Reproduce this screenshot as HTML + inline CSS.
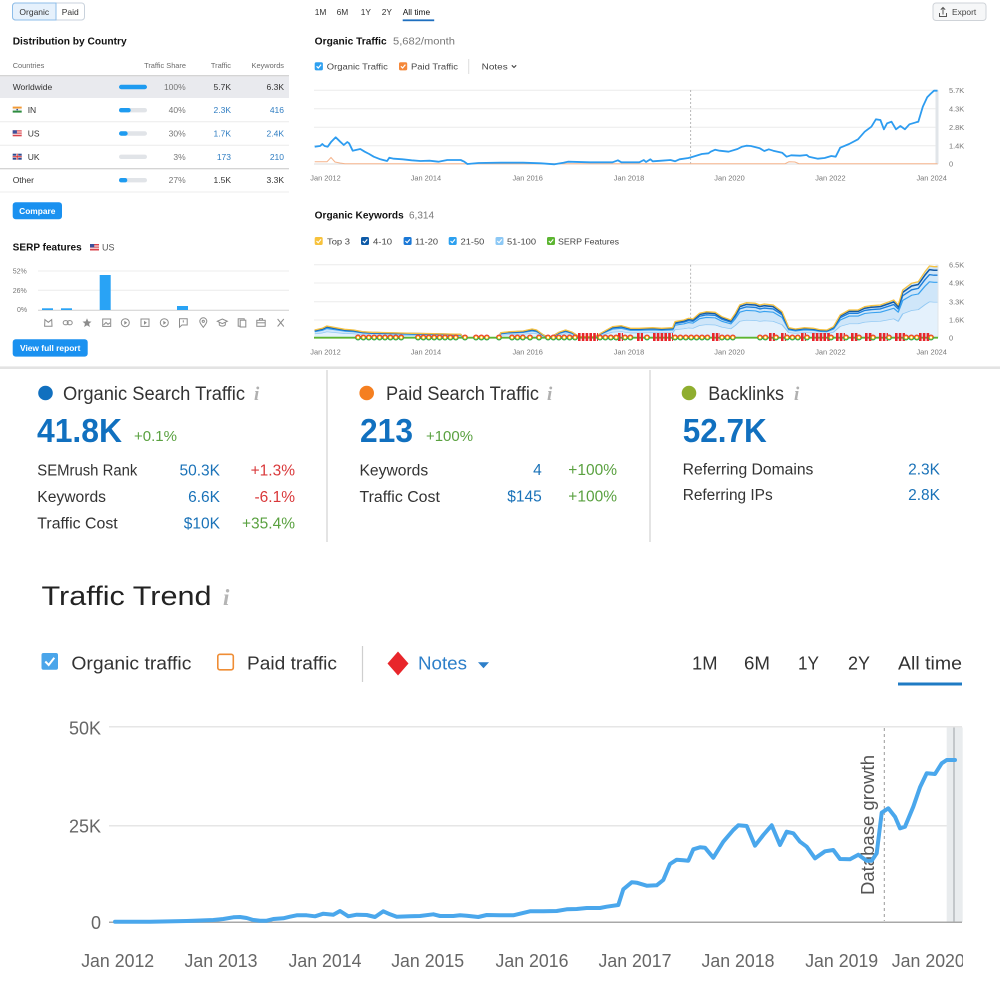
<!DOCTYPE html>
<html><head><meta charset="utf-8"><style>
html,body{margin:0;padding:0;background:#fff;width:1000px;height:1000px;overflow:hidden}
svg{display:block}
</style></head><body>
<svg width="1000" height="1000" viewBox="0 0 1000 1000" xmlns="http://www.w3.org/2000/svg" font-family="Liberation Sans, Arial, sans-serif">
<defs>
<path id="kwl" d="M314.7,330 L322.3,328.3 326.8,326 335.7,327.7 344.6,329.3 353.6,330 362.5,331.7 371.4,332.3 389.3,332.7 411.6,333.3 433.9,333.7 460.7,334.3 462.9,337.7 498.7,337.7 500.9,332.7 509.8,331.7 523.2,331 532.1,329 536.6,330 543.3,335 550,337.7 558.9,332.3 565.6,330 572.3,332.3 579,336.7 594.6,336.7 603.6,331.7 612.5,326.7 621.4,325.7 630.4,328.3 639.3,328.3 652.7,327.7 661.6,328.3 672.8,327.7 675,321.7 683.9,320 688.4,318.3 692.9,319 699.6,313.3 706.3,311.7 715.2,312.3 721.9,316.7 730.8,320 735.3,313.3 739.7,305 746.4,302.7 755.4,303.3 759.8,305 764.3,304 773.2,305 782.1,311.7 788.8,327.7 795.5,329 804.5,327.7 813.4,328.3 820.1,329.7 826.8,330 833.5,326.7 840.2,315 849.1,310 858,310 864.7,306.7 871.4,305.7 880.4,305 889.3,301.7 893.8,300 898.2,305 902.7,290 911.6,283.3 918.3,281.7 925,271.7 929.5,266 934,266.7 937.5,266.7"/>
<path id="kwa" d="M314.7,337.7 L314.7,330 L322.3,328.3 326.8,326 335.7,327.7 344.6,329.3 353.6,330 362.5,331.7 371.4,332.3 389.3,332.7 411.6,333.3 433.9,333.7 460.7,334.3 462.9,337.7 498.7,337.7 500.9,332.7 509.8,331.7 523.2,331 532.1,329 536.6,330 543.3,335 550,337.7 558.9,332.3 565.6,330 572.3,332.3 579,336.7 594.6,336.7 603.6,331.7 612.5,326.7 621.4,325.7 630.4,328.3 639.3,328.3 652.7,327.7 661.6,328.3 672.8,327.7 675,321.7 683.9,320 688.4,318.3 692.9,319 699.6,313.3 706.3,311.7 715.2,312.3 721.9,316.7 730.8,320 735.3,313.3 739.7,305 746.4,302.7 755.4,303.3 759.8,305 764.3,304 773.2,305 782.1,311.7 788.8,327.7 795.5,329 804.5,327.7 813.4,328.3 820.1,329.7 826.8,330 833.5,326.7 840.2,315 849.1,310 858,310 864.7,306.7 871.4,305.7 880.4,305 889.3,301.7 893.8,300 898.2,305 902.7,290 911.6,283.3 918.3,281.7 925,271.7 929.5,266 934,266.7 937.5,266.7 L937.5,337.7 Z"/>
<path id="gseg" d="M358,337.5 H405 M418,337.5 H458 M465,337.5 H469 M476,337.5 H487 M499,337.5 H503 M512,337.5 H524 M530,337.5 H534 M539,337.5 H543 M548,337.5 H577 M600,337.5 H617 M625,337.5 H635 M647,337.5 H652 M675,337.5 H710 M722,337.5 H736 M760,337.5 H768 M776,337.5 H780 M787,337.5 H800 M807,337.5 H811 M831,337.5 H835 M846,337.5 H850 M859,337.5 H864 M873,337.5 H878 M889,337.5 H894 M906,337.5 H918 M931,337.5 H935"/>
<clipPath id="bclip"><rect x="0" y="700" width="963" height="300"/></clipPath>
<clipPath id="gtop"><rect x="300" y="330" width="700" height="7.5"/></clipPath>
<clipPath id="gbot"><rect x="300" y="337.5" width="700" height="8"/></clipPath>
</defs>

<!-- ============ TOP LEFT PANEL ============ -->
<rect x="12.5" y="3" width="72" height="17" rx="3" fill="#fff" stroke="#c9d2dc" stroke-width="1"/>
<path d="M15.5,3 H56 V20 H15.5 A3,3 0 0 1 12.5,17 V6 A3,3 0 0 1 15.5,3 Z" fill="#e6f1fc" stroke="#8dbde9" stroke-width="1"/>
<text x="34.3" y="14.8" font-size="8.5" fill="#333" text-anchor="middle">Organic</text>
<text x="70.2" y="14.8" font-size="8.5" fill="#333" text-anchor="middle">Paid</text>

<text x="12.7" y="44.3" font-size="10.3" font-weight="bold" fill="#111" textLength="114" lengthAdjust="spacingAndGlyphs">Distribution by Country</text>

<g font-size="7.4" fill="#6b6b6b">
<text x="12.7" y="67.8">Countries</text>
<text x="186" y="67.8" text-anchor="end">Traffic Share</text>
<text x="231" y="67.8" text-anchor="end">Traffic</text>
<text x="284" y="67.8" text-anchor="end">Keywords</text>
</g>
<rect x="0" y="76.3" width="289" height="21.7" fill="#e9eaee"/>
<line x1="0" y1="75.8" x2="289" y2="75.8" stroke="#c6c6c6" stroke-width="1"/>
<line x1="0" y1="121.8" x2="289" y2="121.8" stroke="#ececec" stroke-width="1"/>
<line x1="0" y1="145.2" x2="289" y2="145.2" stroke="#ececec" stroke-width="1"/>
<line x1="0" y1="168.7" x2="289" y2="168.7" stroke="#c6c6c6" stroke-width="1"/>
<line x1="0" y1="192" x2="289" y2="192" stroke="#ececec" stroke-width="1"/>

<g>
<rect x="119" y="84.8" width="28" height="4.4" rx="2.2" fill="#1e9bf0"/>
<rect x="119" y="108" width="28" height="4.4" rx="2.2" fill="#e1e4e8"/><rect x="119" y="108" width="11.7" height="4.4" rx="2.2" fill="#1e9bf0"/>
<rect x="119" y="131.3" width="28" height="4.4" rx="2.2" fill="#e1e4e8"/><rect x="119" y="131.3" width="8.7" height="4.4" rx="2.2" fill="#1e9bf0"/>
<rect x="119" y="154.6" width="28" height="4.4" rx="2.2" fill="#e1e4e8"/>
<rect x="119" y="178" width="28" height="4.4" rx="2.2" fill="#e1e4e8"/><rect x="119" y="178" width="8.3" height="4.4" rx="2.2" fill="#1e9bf0"/>
</g>
<rect x="12.7" y="106.6" width="9" height="2" fill="#f29a35"/><rect x="12.7" y="108.6" width="9" height="2" fill="#f3f3f3"/><rect x="12.7" y="110.6" width="9" height="2" fill="#2d8c3e"/><circle cx="17.2" cy="109.6" r="0.8" fill="#2a4a9a"/>
<rect x="12.7" y="130.3" width="9" height="6" fill="#d9434b"/><rect x="12.7" y="131.5" width="9" height="1" fill="#fff"/><rect x="12.7" y="133.7" width="9" height="1" fill="#fff"/><rect x="12.7" y="130.3" width="4.2" height="3.3" fill="#3b4f9b"/>
<rect x="12.7" y="153.7" width="9" height="6" fill="#2f4a8e"/><rect x="16.2" y="153.7" width="2" height="6" fill="#fff"/><rect x="12.7" y="155.7" width="9" height="2" fill="#fff"/><rect x="16.7" y="153.7" width="1" height="6" fill="#d33"/><rect x="12.7" y="156.2" width="9" height="1" fill="#d33"/>

<g font-size="8.5" fill="#333">
<text x="12.7" y="90">Worldwide</text>
<text x="27.7" y="113.2">IN</text>
<text x="27.7" y="136.5">US</text>
<text x="27.7" y="159.9">UK</text>
<text x="12.7" y="183.2">Other</text>
</g>
<g font-size="8.5" text-anchor="end">
<text x="185.7" y="90" fill="#777">100%</text><text x="231" y="90" fill="#333">5.7K</text><text x="284" y="90" fill="#333">6.3K</text>
<text x="185.7" y="113.2" fill="#777">40%</text><text x="231" y="113.2" fill="#2f7dc2">2.3K</text><text x="284" y="113.2" fill="#2f7dc2">416</text>
<text x="185.7" y="136.5" fill="#777">30%</text><text x="231" y="136.5" fill="#2f7dc2">1.7K</text><text x="284" y="136.5" fill="#2f7dc2">2.4K</text>
<text x="185.7" y="159.9" fill="#777">3%</text><text x="231" y="159.9" fill="#2f7dc2">173</text><text x="284" y="159.9" fill="#2f7dc2">210</text>
<text x="185.7" y="183.2" fill="#777">27%</text><text x="231" y="183.2" fill="#333">1.5K</text><text x="284" y="183.2" fill="#333">3.3K</text>
</g>

<rect x="12.7" y="202.3" width="49.3" height="17" rx="3" fill="#1a91f0"/>
<text x="37.3" y="213.9" font-size="8.4" font-weight="bold" fill="#fff" text-anchor="middle">Compare</text>

<text x="12.7" y="250.6" font-size="10" font-weight="bold" fill="#111" textLength="69" lengthAdjust="spacingAndGlyphs">SERP features</text>
<rect x="90" y="244" width="9" height="6.5" fill="#d9434b"/><rect x="90" y="245.5" width="9" height="1" fill="#fff"/><rect x="90" y="247.7" width="9" height="1" fill="#fff"/><rect x="90" y="244" width="4.2" height="3.4" fill="#3b4f9b"/>
<text x="102" y="250.6" font-size="9" fill="#555">US</text>

<g font-size="7" fill="#777">
<text x="12.7" y="273.5">52%</text>
<text x="12.7" y="292.8">26%</text>
<text x="17" y="311.8">0%</text>
</g>
<line x1="38" y1="271" x2="289" y2="271" stroke="#ececec"/>
<line x1="38" y1="290.3" x2="289" y2="290.3" stroke="#ececec"/>
<line x1="38" y1="310.2" x2="289" y2="310.2" stroke="#cfcfcf"/>
<g fill="#29a3f5">
<rect x="42" y="308.3" width="11" height="1.7"/>
<rect x="61" y="308.3" width="11" height="1.7"/>
<rect x="99.7" y="275" width="11" height="35"/>
<rect x="177" y="306" width="11" height="4"/>
</g>
<g stroke="#8c8c8c" stroke-width="1" fill="none">
<path d="M44.6,326.3 L44.9,319.6 L48.3,322.3 L51.7,319.6 L52,326.3 Z"/>
<rect x="63.2" y="320.6" width="5" height="4.2" rx="2.1"/><rect x="67.2" y="320.6" width="5" height="4.2" rx="2.1"/>
<polygon points="87,318.2 88.3,321.4 91.5,321.6 89,323.7 89.9,327 87,325.2 84.1,327 85,323.7 82.5,321.6 85.7,321.4" fill="#8c8c8c" stroke="none"/>
<rect x="102.7" y="319" width="8" height="7.4"/><polyline points="103.5,325 106,322.5 108,324.3 110,322.8"/>
<circle cx="125.3" cy="322.7" r="4"/><polygon points="124.3,320.7 127.2,322.7 124.3,324.7" fill="#8c8c8c" stroke="none"/>
<rect x="141" y="319" width="8" height="7.4"/><polygon points="144,320.7 146.9,322.7 144,324.7" fill="#8c8c8c" stroke="none"/>
<circle cx="164.3" cy="322.7" r="4"/><polygon points="163.3,320.7 166.2,322.7 163.3,324.7" fill="#8c8c8c" stroke="none"/>
<path d="M179.5,318.8 H187.2 V325 H182 L179.5,327.2 Z"/><line x1="183.3" y1="320.3" x2="183.3" y2="322.5"/>
<path d="M203.3,327.3 C200.5,324 199.8,322.5 199.8,321.3 A3.5,3.5 0 0 1 206.8,321.3 C206.8,322.5 206.1,324 203.3,327.3 Z"/><circle cx="203.3" cy="321.3" r="1.1"/>
<polygon points="222.3,319 227.3,321.3 222.3,323.6 217.3,321.3"/><path d="M219.3,322.5 V325 C221,326.5 223.6,326.5 225.3,325 V322.5"/>
<rect x="238.2" y="318.8" width="6" height="7.4"/><rect x="240.2" y="320.2" width="5.6" height="6.8" fill="#fff"/>
<rect x="256.8" y="320.3" width="8.4" height="6"/><path d="M259.5,320.3 V318.8 H262.5 V320.3"/><line x1="256.8" y1="322.8" x2="265.2" y2="322.8"/>
<line x1="277.6" y1="319" x2="283.8" y2="326.5"/><line x1="283.8" y1="319" x2="277.6" y2="326.5"/>
</g>

<rect x="12.7" y="339.3" width="75" height="17.3" rx="3" fill="#1a91f0"/>
<text x="50.2" y="351" font-size="8.4" font-weight="bold" fill="#fff" text-anchor="middle">View full report</text>

<rect x="0" y="366.4" width="1000" height="2.6" fill="#e3e3e3"/>

<!-- ============ TOP RIGHT: ORGANIC TRAFFIC ============ -->
<g font-size="8.4" fill="#333">
<text x="314.7" y="15">1M</text>
<text x="336.6" y="15">6M</text>
<text x="360.7" y="15">1Y</text>
<text x="381.7" y="15">2Y</text>
<text x="402.7" y="15" fill="#111">All time</text>
</g>
<rect x="402.7" y="19.4" width="31.5" height="1.8" fill="#1e6fbf"/>
<rect x="933" y="3" width="53" height="17.5" rx="3" fill="#f6f7f8" stroke="#cfd3d8"/>
<g stroke="#555" stroke-width="1" fill="none"><path d="M939.5,13 V16.5 H946.5 V13"/><path d="M943,14.5 V7.5 M940.8,9.7 L943,7.5 L945.2,9.7"/></g>
<text x="952" y="15" font-size="8.4" fill="#444">Export</text>

<text x="314.7" y="44.3" font-size="10" font-weight="bold" fill="#111" textLength="72" lengthAdjust="spacingAndGlyphs">Organic Traffic</text>
<text x="393" y="44.3" font-size="10" fill="#777" textLength="62" lengthAdjust="spacingAndGlyphs">5,682/month</text>

<rect x="314.7" y="62.2" width="8.2" height="8.2" rx="1.6" fill="#2ea0f0"/><polyline points="316.6,66.3 318.3,68 321.1,64.6" stroke="#fff" stroke-width="1.2" fill="none"/>
<text x="326.8" y="69.5" font-size="8.4" fill="#444" textLength="61" lengthAdjust="spacingAndGlyphs">Organic Traffic</text>
<rect x="399" y="62.2" width="8.2" height="8.2" rx="1.6" fill="#f5883a"/><polyline points="400.9,66.3 402.6,68 405.4,64.6" stroke="#fff" stroke-width="1.2" fill="none"/>
<text x="411" y="69.5" font-size="8.4" fill="#444" textLength="47" lengthAdjust="spacingAndGlyphs">Paid Traffic</text>
<line x1="468.7" y1="59" x2="468.7" y2="74" stroke="#ddd"/>
<text x="481.7" y="69.5" font-size="8.4" fill="#444" textLength="26" lengthAdjust="spacingAndGlyphs">Notes</text>
<polyline points="511.8,65.3 514,67.5 516.2,65.3" stroke="#444" stroke-width="1.1" fill="none"/>

<g stroke="#ececec" stroke-width="1">
<line x1="314" y1="90.3" x2="938" y2="90.3"/>
<line x1="314" y1="108.7" x2="938" y2="108.7"/>
<line x1="314" y1="127.3" x2="938" y2="127.3"/>
<line x1="314" y1="145.7" x2="938" y2="145.7"/>
</g>
<line x1="314" y1="164" x2="938" y2="164" stroke="#dcdcdc"/>
<rect x="935.5" y="90" width="3" height="74" fill="#e1e5e9"/>
<line x1="690.6" y1="90" x2="690.6" y2="164" stroke="#b8b8b8" stroke-dasharray="2 2"/>
<g font-size="7.4" fill="#777">
<text x="949" y="93">5.7K</text>
<text x="949" y="111.4">4.3K</text>
<text x="949" y="130">2.8K</text>
<text x="949" y="148.4">1.4K</text>
<text x="949" y="166.7">0</text>
</g>
<g font-size="7.4" fill="#777" text-anchor="middle">
<text x="325.5" y="180.5">Jan 2012</text>
<text x="425.9" y="180.5">Jan 2014</text>
<text x="527.7" y="180.5">Jan 2016</text>
<text x="629" y="180.5">Jan 2018</text>
<text x="729.5" y="180.5">Jan 2020</text>
<text x="830.4" y="180.5">Jan 2022</text>
<text x="931.7" y="180.5">Jan 2024</text>
</g>
<path d="M314.7,161.7 L327,161.7 331,157.5 335,162 340,163 345,163.7 785,163.7 789,161.8 795,162 799,163.7 937.5,163.7" fill="none" stroke="#f5b48c" stroke-width="1"/>
<path d="M314.7,146.7 L320.1,146 322.3,144 324.6,146 327.7,146.7 331.3,141.7 335.7,137.3 340.2,141.7 343.8,145 347.3,142 349.1,143.3 352.7,150.7 355.8,150 360.3,149 364.7,151.7 369.2,154 373.7,156.7 380.4,159.3 387.1,161 389.3,157.7 393.8,158.7 402.7,159.3 411.6,160.3 420.5,161 429.5,160.7 438.4,161.7 447.3,160 460.7,160 464.3,161.7 467.4,164 478.6,163 500.9,162.7 523.2,162.7 541.1,163.3 554.5,164.3 563.4,162.7 567.9,161.7 590.2,162.3 612.5,162.3 617.9,160.3 621.4,162.3 639.3,162.3 643.8,160 646,162 650.4,159.3 652.7,161.3 661.6,160.7 670.5,160 675,161.3 679.5,159.3 688.4,158 692.9,156.7 701.8,154 708.5,153.3 710.7,151.7 715.2,149.7 719.6,150.7 728.6,151.7 737.5,149 742,146.7 746.4,145.7 750.9,146 759.8,148.3 764.3,151 768.8,149.3 773.2,150.7 782.1,152.7 786.6,156.7 791.1,155.3 800,155.7 806.7,155 808.9,156.7 817.9,158.7 824.6,158 831.3,156 835.7,156.7 840.2,147.7 849.1,144 858,139.3 864.7,131.7 871.4,126.7 875.9,119.3 880.4,120 883.9,129.3 887.1,123.3 891.5,121.7 896,129.3 900.4,126 904.9,129.3 909.4,124.3 916.1,122.3 918.3,121.7 922.8,106.7 927.2,97.3 930.4,94 934,90.7 937.5,90.7" fill="none" stroke="#2d9cf0" stroke-width="1.8" stroke-linejoin="round"/>

<!-- ============ TOP RIGHT: ORGANIC KEYWORDS ============ -->
<text x="314.7" y="218.4" font-size="10" font-weight="bold" fill="#111" textLength="89" lengthAdjust="spacingAndGlyphs">Organic Keywords</text>
<text x="409" y="218.4" font-size="10" fill="#777" textLength="25" lengthAdjust="spacingAndGlyphs">6,314</text>
<g>
<rect x="314.7" y="237" width="8" height="8" rx="1.6" fill="#f7c23b"/>
<rect x="361" y="237" width="8" height="8" rx="1.6" fill="#0d5aa7"/>
<rect x="403.6" y="237" width="8" height="8" rx="1.6" fill="#1b78d6"/>
<rect x="448.7" y="237" width="8" height="8" rx="1.6" fill="#2ca0ef"/>
<rect x="495.5" y="237" width="8" height="8" rx="1.6" fill="#8cc8f5"/>
<rect x="547" y="237" width="8" height="8" rx="1.6" fill="#5cb531"/>
<g stroke="#fff" stroke-width="1.1" fill="none">
<polyline points="316.5,241 318.2,242.7 321,239.4"/>
<polyline points="362.8,241 364.5,242.7 367.3,239.4"/>
<polyline points="405.4,241 407.1,242.7 409.9,239.4"/>
<polyline points="450.5,241 452.2,242.7 455,239.4"/>
<polyline points="497.3,241 499,242.7 501.8,239.4"/>
<polyline points="548.8,241 550.5,242.7 553.3,239.4"/>
</g>
</g>
<g font-size="8.4" fill="#444">
<text x="327" y="244.3" textLength="23" lengthAdjust="spacingAndGlyphs">Top 3</text>
<text x="373" y="244.3" textLength="19" lengthAdjust="spacingAndGlyphs">4-10</text>
<text x="415" y="244.3" textLength="23" lengthAdjust="spacingAndGlyphs">11-20</text>
<text x="460.7" y="244.3" textLength="23.5" lengthAdjust="spacingAndGlyphs">21-50</text>
<text x="507" y="244.3" textLength="29" lengthAdjust="spacingAndGlyphs">51-100</text>
<text x="558" y="244.3" textLength="61" lengthAdjust="spacingAndGlyphs">SERP Features</text>
</g>
<g stroke="#ececec" stroke-width="1">
<line x1="314" y1="264.7" x2="938" y2="264.7"/>
<line x1="314" y1="283" x2="938" y2="283"/>
<line x1="314" y1="301.7" x2="938" y2="301.7"/>
<line x1="314" y1="320" x2="938" y2="320"/>
</g>
<rect x="935.5" y="264.7" width="3" height="73" fill="#e1e5e9"/>
<line x1="690.6" y1="264.7" x2="690.6" y2="337.7" stroke="#b8b8b8" stroke-dasharray="2 2"/>
<g font-size="7.4" fill="#777">
<text x="949" y="267.4">6.5K</text>
<text x="949" y="285.7">4.9K</text>
<text x="949" y="304.4">3.3K</text>
<text x="949" y="322.7">1.6K</text>
<text x="949" y="340.4">0</text>
</g>
<use href="#kwa" fill="#cfe6f9"/>
<use href="#kwa" fill="#e4f1fc" transform="translate(0,337.7) scale(1,0.5) translate(0,-337.7)"/>
<g fill="none" stroke-linejoin="round">
<use href="#kwl" stroke="#8ec7f3" stroke-width="1.3" vector-effect="non-scaling-stroke" transform="translate(0,337.7) scale(1,0.5) translate(0,-337.7)"/>
<use href="#kwl" stroke="#38a1ef" stroke-width="1.4" vector-effect="non-scaling-stroke" transform="translate(0,337.7) scale(1,0.78) translate(0,-337.7)"/>
<use href="#kwl" stroke="#1c7fdb" stroke-width="1.5" vector-effect="non-scaling-stroke" transform="translate(0,337.7) scale(1,0.88) translate(0,-337.7)"/>
<use href="#kwl" stroke="#135aa6" stroke-width="1.6" vector-effect="non-scaling-stroke" transform="translate(0,337.7) scale(1,0.95) translate(0,-337.7)"/>
<use href="#kwl" stroke="#f5c242" stroke-width="1.3"/>
</g>
<line x1="314" y1="337.7" x2="938" y2="337.7" stroke="#5cb531" stroke-width="1.8"/>
<g stroke="#e8262b" stroke-width="8" stroke-dasharray="2.6 1.2" fill="none">
<path d="M578,337 H598 M618,337 H623 M637,337 H643 M653,337 H673 M712,337 H720 M769,337 H775 M781,337 H786 M801,337 H806 M812,337 H830 M836,337 H845 M851,337 H858 M865,337 H872 M879,337 H888 M895,337 H905 M919,337 H930"/>
</g>
<g stroke-linecap="round" fill="none" stroke-dasharray="0 5.4" stroke-width="6">
<use href="#gseg" stroke="#e94235" clip-path="url(#gtop)"/>
<use href="#gseg" stroke="#34a853" clip-path="url(#gbot)"/>
<use href="#gseg" stroke="#fbbc05" stroke-width="3.6"/>
<use href="#gseg" stroke="#fff" stroke-width="2.2"/>
</g>
<g font-size="7.4" fill="#777" text-anchor="middle">
<text x="325.5" y="354.5">Jan 2012</text>
<text x="425.9" y="354.5">Jan 2014</text>
<text x="527.7" y="354.5">Jan 2016</text>
<text x="629" y="354.5">Jan 2018</text>
<text x="729.5" y="354.5">Jan 2020</text>
<text x="830.4" y="354.5">Jan 2022</text>
<text x="931.7" y="354.5">Jan 2024</text>
</g>

<!-- ============ STATS ============ -->
<line x1="327" y1="370" x2="327" y2="542" stroke="#dcdcdc" stroke-width="1.5"/>
<line x1="650" y1="370" x2="650" y2="542" stroke="#dcdcdc" stroke-width="1.5"/>

<circle cx="45.5" cy="393" r="7.3" fill="#1170bf"/>
<text x="63" y="399.8" font-size="19" fill="#333" textLength="182" lengthAdjust="spacingAndGlyphs">Organic Search Traffic</text>
<text x="254" y="400" font-size="19" font-style="italic" font-weight="bold" font-family="Liberation Serif, serif" fill="#b0b0b0">i</text>
<text x="37" y="442" font-size="33" font-weight="bold" fill="#1170bf" textLength="85" lengthAdjust="spacingAndGlyphs">41.8K</text>
<text x="134" y="441" font-size="15" fill="#5aa140" textLength="43" lengthAdjust="spacingAndGlyphs">+0.1%</text>
<g font-size="15.5" fill="#333">
<text x="37.3" y="475.5" textLength="100" lengthAdjust="spacingAndGlyphs">SEMrush Rank</text>
<text x="37.3" y="502" textLength="68.7" lengthAdjust="spacingAndGlyphs">Keywords</text>
<text x="37.3" y="528.5" textLength="80.4" lengthAdjust="spacingAndGlyphs">Traffic Cost</text>
</g>
<g font-size="15.5" text-anchor="end">
<text x="220" y="475.5" fill="#1a72b8">50.3K</text>
<text x="295" y="475.5" fill="#d9383a">+1.3%</text>
<text x="220" y="502" fill="#1a72b8">6.6K</text>
<text x="295" y="502" fill="#d9383a">-6.1%</text>
<text x="220" y="528.5" fill="#1a72b8">$10K</text>
<text x="295" y="528.5" fill="#5aa140">+35.4%</text>
</g>

<circle cx="366.7" cy="393" r="7.3" fill="#f57f20"/>
<text x="386" y="399.8" font-size="19" fill="#333" textLength="153" lengthAdjust="spacingAndGlyphs">Paid Search Traffic</text>
<text x="547" y="400" font-size="19" font-style="italic" font-weight="bold" font-family="Liberation Serif, serif" fill="#b0b0b0">i</text>
<text x="360" y="442" font-size="33" font-weight="bold" fill="#1170bf" textLength="53" lengthAdjust="spacingAndGlyphs">213</text>
<text x="426" y="441" font-size="15" fill="#5aa140" textLength="47" lengthAdjust="spacingAndGlyphs">+100%</text>
<g font-size="15.5" fill="#333">
<text x="359.5" y="475.5" textLength="68.7" lengthAdjust="spacingAndGlyphs">Keywords</text>
<text x="359.5" y="502" textLength="80.4" lengthAdjust="spacingAndGlyphs">Traffic Cost</text>
</g>
<g font-size="15.5" text-anchor="end">
<text x="541.7" y="475" fill="#1a72b8">4</text>
<text x="617" y="475" fill="#5aa140">+100%</text>
<text x="541.7" y="501.5" fill="#1a72b8">$145</text>
<text x="617" y="501.5" fill="#5aa140">+100%</text>
</g>

<circle cx="689" cy="393" r="7.3" fill="#8fae2f"/>
<text x="708.3" y="399.8" font-size="19" fill="#333" textLength="75.7" lengthAdjust="spacingAndGlyphs">Backlinks</text>
<text x="794" y="400" font-size="19" font-style="italic" font-weight="bold" font-family="Liberation Serif, serif" fill="#b0b0b0">i</text>
<text x="682.7" y="442" font-size="33" font-weight="bold" fill="#1170bf" textLength="84" lengthAdjust="spacingAndGlyphs">52.7K</text>
<g font-size="15.5" fill="#333">
<text x="682.7" y="474.5" textLength="130.7" lengthAdjust="spacingAndGlyphs">Referring Domains</text>
<text x="682.7" y="500" textLength="90" lengthAdjust="spacingAndGlyphs">Referring IPs</text>
</g>
<g font-size="15.5" text-anchor="end" fill="#1a72b8">
<text x="940" y="474.5">2.3K</text>
<text x="940" y="500">2.8K</text>
</g>

<!-- ============ TRAFFIC TREND ============ -->
<text x="41.5" y="605" font-size="27" fill="#222" textLength="170" lengthAdjust="spacingAndGlyphs">Traffic Trend</text>
<text x="223" y="605" font-size="23" font-style="italic" font-weight="bold" font-family="Liberation Serif, serif" fill="#b5b5b5">i</text>

<rect x="41.5" y="653" width="16.5" height="16.8" rx="2" fill="#4aa5ea"/>
<polyline points="45.3,661.5 48.7,665 54.3,657.8" stroke="#fff" stroke-width="2" fill="none"/>
<text x="71.4" y="669.5" font-size="18" fill="#333" textLength="120" lengthAdjust="spacingAndGlyphs">Organic traffic</text>
<rect x="217.8" y="654.3" width="15.5" height="15.5" rx="2" fill="#fff" stroke="#ef8d35" stroke-width="1.6"/>
<text x="247" y="669.5" font-size="18" fill="#333" textLength="90" lengthAdjust="spacingAndGlyphs">Paid traffic</text>
<line x1="362.5" y1="646" x2="362.5" y2="682" stroke="#cfcfcf" stroke-width="1.2"/>
<polygon points="398,651.5 408.5,663.5 398,675.5 387.5,663.5" fill="#e8262b"/>
<text x="418" y="669.5" font-size="18" fill="#2d7fc9" textLength="49" lengthAdjust="spacingAndGlyphs">Notes</text>
<polygon points="478,662.3 489,662.3 483.5,668.3" fill="#2d7fc9"/>
<g font-size="18" fill="#333">
<text x="692" y="669.5" textLength="25.5" lengthAdjust="spacingAndGlyphs">1M</text>
<text x="744" y="669.5" textLength="26" lengthAdjust="spacingAndGlyphs">6M</text>
<text x="798" y="669.5" textLength="21" lengthAdjust="spacingAndGlyphs">1Y</text>
<text x="848" y="669.5" textLength="22" lengthAdjust="spacingAndGlyphs">2Y</text>
<text x="898" y="669.5" textLength="64" lengthAdjust="spacingAndGlyphs">All time</text>
</g>
<rect x="898" y="682.5" width="64" height="3" fill="#1f7bc4"/>

<line x1="109" y1="726.7" x2="962" y2="726.7" stroke="#e6e6e6" stroke-width="1.5"/>
<line x1="109" y1="825.7" x2="962" y2="825.7" stroke="#e6e6e6" stroke-width="1.5"/>
<rect x="946.7" y="727.5" width="16" height="194.5" fill="#e9ecee"/>
<line x1="954" y1="727.5" x2="954" y2="922" stroke="#c3c7ca" stroke-width="2"/>
<line x1="884.3" y1="728" x2="884.3" y2="921" stroke="#9a9a9a" stroke-width="1" stroke-dasharray="3 3"/>
<line x1="109" y1="922.3" x2="962" y2="922.3" stroke="#a8a8a8" stroke-width="1.5"/>
<g font-size="18" fill="#666" text-anchor="end">
<text x="101" y="734.5">50K</text>
<text x="101" y="832.5">25K</text>
<text x="101" y="929">0</text>
</g>
<g font-size="18" fill="#666" text-anchor="middle" clip-path="url(#bclip)">
<text x="117.7" y="967" textLength="73" lengthAdjust="spacingAndGlyphs">Jan 2012</text>
<text x="221" y="967" textLength="73" lengthAdjust="spacingAndGlyphs">Jan 2013</text>
<text x="325" y="967" textLength="73" lengthAdjust="spacingAndGlyphs">Jan 2014</text>
<text x="427.7" y="967" textLength="73" lengthAdjust="spacingAndGlyphs">Jan 2015</text>
<text x="532" y="967" textLength="73" lengthAdjust="spacingAndGlyphs">Jan 2016</text>
<text x="635" y="967" textLength="73" lengthAdjust="spacingAndGlyphs">Jan 2017</text>
<text x="738" y="967" textLength="73" lengthAdjust="spacingAndGlyphs">Jan 2018</text>
<text x="841.7" y="967" textLength="73" lengthAdjust="spacingAndGlyphs">Jan 2019</text>
<text x="928.3" y="967" textLength="73" lengthAdjust="spacingAndGlyphs">Jan 2020</text>
</g>
<text transform="translate(874,825) rotate(-90)" font-size="18" fill="#555" text-anchor="middle" textLength="140" lengthAdjust="spacingAndGlyphs">Database growth</text>
<path d="M115,921.7 L150,921.7 186.7,921 213.3,920 223.3,919 233.3,917.3 240,917 246.7,918 253.3,920 260,920.7 266.7,920.7 273.3,919 283.3,918.3 290,916.7 296.7,915.3 306.7,915.3 315,916.3 323.3,913.7 333.3,914.7 340,911 348.3,916.3 356.7,914.7 366.7,915 375,917 383.3,911.3 390,914.3 396.7,916.7 410,916.3 420,916 433.3,914.3 440,916 453.3,916 460,915.3 466.7,915.7 478.3,917 486.7,915 500,915.3 513.3,915.3 530,911.3 543.3,911.3 556.7,911 566.7,909.3 576.7,909 586.7,908 600,908 606.7,906.7 618.3,905 623.3,889.3 631.7,882.3 636.7,882.7 646.7,885.7 656.7,885.3 663.3,880 670,864 676.7,859.7 683.3,860.3 688.3,860.7 693.3,849.3 700,847.3 705,847.7 713.3,857.7 723.3,841.7 733.3,830 738.3,825.3 746.7,826 755,845.7 763.3,835 771.7,825.3 780,845 786.7,831.7 793.3,833.3 800,841.7 806.7,846.7 815,858.3 825,851.3 833.3,850 840,859 850,859.3 858.3,854.7 866.7,860.7 871.7,860.7 876.7,853.3 881.7,812.7 888.3,808.3 895,816.7 900,828.3 905,826.7 913.3,806.7 920,787.3 926.7,773.3 935,774 941.7,763.3 946.7,760 955,760" fill="none" stroke="#4aa7ec" stroke-width="4" stroke-linejoin="round" stroke-linecap="round"/>
</svg>
</body></html>
